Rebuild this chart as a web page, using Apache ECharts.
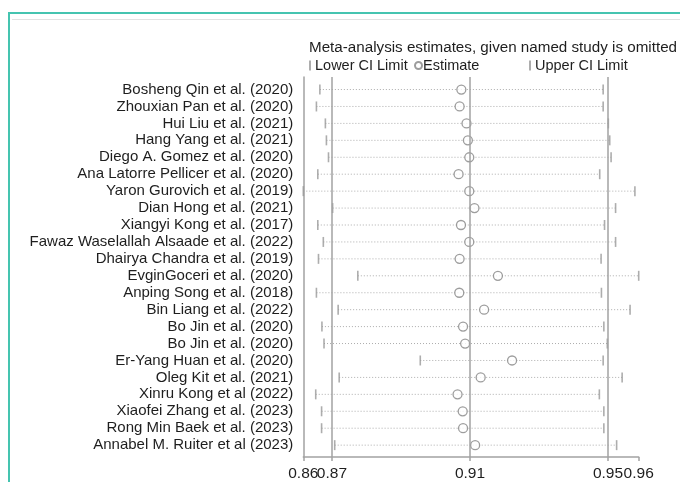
<!DOCTYPE html>
<html>
<head>
<meta charset="utf-8">
<script src="https://cdn.jsdelivr.net/npm/echarts@6/dist/echarts.min.js"></script>
<style>
  html, body { margin: 0; padding: 0; background: #fff; }
  #chart { width: 680px; height: 482px; }
</style>
</head>
<body>
<div id="chart"></div>
<script>
// Leave-one-out sensitivity analysis: pooled estimate with each study omitted
const studies = [
  'Bosheng Qin et al. (2020)',
  'Zhouxian Pan et al. (2020)',
  'Hui Liu et al. (2021)',
  'Hang Yang et al. (2021)',
  'Diego A. Gomez et al. (2020)',
  'Ana Latorre Pellicer et al. (2020)',
  'Yaron Gurovich et al. (2019)',
  'Dian Hong et al. (2021)',
  'Xiangyi Kong et al. (2017)',
  'Fawaz Waselallah Alsaade et al. (2022)',
  'Dhairya Chandra et al. (2019)',
  'EvginGoceri et al. (2020)',
  'Anping Song et al. (2018)',
  'Bin Liang et al. (2022)',
  'Bo Jin et al. (2020)',
  'Bo Jin et al. (2020)',
  'Er-Yang Huan et al. (2020)',
  'Oleg Kit et al. (2021)',
  'Xinru Kong et al (2022)',
  'Xiaofei Zhang et al. (2023)',
  'Rong Min Baek et al. (2023)',
  'Annabel M. Ruiter et al (2023)'
];

const lowerCI = [
  0.8665, 0.8655, 0.8681, 0.8684, 0.8690, 0.8659, 0.8617, 0.8702, 0.8659, 0.8675, 0.8661,
  0.8775, 0.8655, 0.8718, 0.8671, 0.8677, 0.8956, 0.8721, 0.8653, 0.8670, 0.8670, 0.8708
];

const estimate = [
  0.9075, 0.9070, 0.9090, 0.9094, 0.9098, 0.9067, 0.9098, 0.9113, 0.9074, 0.9098, 0.9070,
  0.9181, 0.9069, 0.9141, 0.9080, 0.9086, 0.9222, 0.9131, 0.9064, 0.9079, 0.9080, 0.9115
];

const upperCI = [
  0.9486, 0.9486, 0.9501, 0.9505, 0.9509, 0.9476, 0.9578, 0.9522, 0.9490, 0.9522, 0.9480,
  0.9589, 0.9481, 0.9564, 0.9488, 0.9498, 0.9486, 0.9541, 0.9475, 0.9488, 0.9488, 0.9525
];

// Pooled result with all studies included: lower limit, estimate, upper limit
const overall = [0.87, 0.91, 0.95];

const axisMin = Math.min(...lowerCI);
const axisMax = Math.max(...upperCI);
const xTicks = [axisMin, overall[0], overall[1], overall[2], axisMax];
// labels are split over two axes so that adjacent values both stay visible
const xLabelsA = [axisMin, overall[1], axisMax];
const xLabelsB = [overall[0], overall[2]];
const rowIdx = studies.map((_, i) => i);

const lineGray = '#a2a2a2';
const markGray = '#999';
const textColor = '#1e1e1e';
const font = 'Liberation Sans, Arial, sans-serif';
const tickFmt = v => v.toFixed(2);

const chart = echarts.init(document.getElementById('chart'));

chart.setOption({
  animation: false,
  backgroundColor: '#fff',
  textStyle: { fontFamily: font },
  title: {
    text: 'Meta-analysis estimates, given named study is omitted',
    left: 304,
    top: 35,
    textStyle: { fontSize: 15.2, fontWeight: 'normal', color: textColor, fontFamily: font }
  },
  legend: [
    {
      data: ['Lower CI Limit'],
      left: 304, top: 53,
      itemWidth: 2, itemHeight: 10,
      textStyle: { fontSize: 14.5, color: textColor, fontFamily: font, padding: [0, 0, 0, -1] }
    },
    {
      data: ['Estimate'],
      left: 409, top: 53,
      itemWidth: 7, itemHeight: 7,
      textStyle: { fontSize: 14.5, color: textColor, fontFamily: font, padding: [0, 0, 0, -4] }
    },
    {
      data: ['Upper CI Limit'],
      left: 524, top: 53,
      itemWidth: 2, itemHeight: 10,
      textStyle: { fontSize: 14.5, color: textColor, fontFamily: font, padding: [0, 0, 0, -1] }
    }
  ],
  grid: { left: 303.3, right: 41.3, top: 77, bottom: 21.3, containLabel: false },
  xAxis: [
    {
      type: 'value',
      min: axisMin,
      max: axisMax,
      axisLine: { show: true, onZero: false, lineStyle: { color: lineGray, width: 1.5 } },
      axisTick: { show: true, customValues: xTicks, length: 4, lineStyle: { color: lineGray, width: 1.5 } },
      axisLabel: {
        customValues: xLabelsA,
        showMinLabel: true,
        showMaxLabel: true,
        hideOverlap: false,
        formatter: tickFmt,
        fontSize: 15.5, color: textColor, fontFamily: font, margin: 9
      },
      splitLine: { show: false }
    },
    {
      type: 'value',
      position: 'bottom',
      min: axisMin,
      max: axisMax,
      axisLine: { show: false, onZero: false },
      axisTick: { show: false },
      axisLabel: {
        customValues: xLabelsB,
        hideOverlap: false,
        formatter: tickFmt,
        fontSize: 15.5, color: textColor, fontFamily: font, margin: 9
      },
      splitLine: { show: false }
    }
  ],
  yAxis: {
    type: 'value',
    inverse: true,
    min: -0.74,
    max: 21.7,
    axisLine: { show: true, onZero: false, lineStyle: { color: lineGray, width: 1.5 } },
    axisTick: { show: false },
    axisLabel: {
      customValues: rowIdx,
      showMinLabel: true,
      showMaxLabel: true,
      formatter: v => studies[v] || '',
      fontSize: 15, color: textColor, fontFamily: font, margin: 10
    },
    splitLine: { show: false }
  },
  series: [
    {
      // dotted span from lower to upper limit, plus the pooled reference lines
      name: 'range',
      type: 'custom',
      silent: true,
      data: rowIdx.map(i => [lowerCI[i], upperCI[i], i]),
      encode: { x: [0, 1], y: 2 },
      renderItem: (params, api) => {
        const a = api.coord([api.value(0), api.value(2)]);
        const b = api.coord([api.value(1), api.value(2)]);
        return {
          type: 'line',
          shape: { x1: a[0], y1: a[1], x2: b[0], y2: b[1] },
          style: { stroke: '#adadad', lineWidth: 1, lineDash: [1, 2] }
        };
      },
      markLine: {
        silent: true,
        symbol: 'none',
        label: { show: false },
        lineStyle: { type: 'solid', color: lineGray, width: 1.5 },
        data: overall.map(v => ({ xAxis: v }))
      },
      z: 1
    },
    {
      name: 'Lower CI Limit',
      type: 'scatter',
      symbol: 'rect',
      symbolSize: [1.6, 10],
      itemStyle: { color: markGray },
      data: rowIdx.map(i => [lowerCI[i], i]),
      z: 3
    },
    {
      name: 'Estimate',
      type: 'scatter',
      symbol: 'circle',
      symbolSize: 9,
      itemStyle: { color: '#fff', borderColor: '#858585', borderWidth: 1.3 },
      data: rowIdx.map(i => [estimate[i], i]),
      z: 4
    },
    {
      name: 'Upper CI Limit',
      type: 'scatter',
      symbol: 'rect',
      symbolSize: [1.6, 10],
      itemStyle: { color: markGray },
      data: rowIdx.map(i => [upperCI[i], i]),
      z: 3
    }
  ],
  graphic: [
    // page frame around the figure
    { type: 'line', shape: { x1: 9, y1: 12, x2: 9, y2: 482 }, style: { stroke: '#45c4b0', lineWidth: 2 }, silent: true },
    { type: 'line', shape: { x1: 8, y1: 13, x2: 680, y2: 13 }, style: { stroke: '#45c4b0', lineWidth: 2 }, silent: true },
    { type: 'line', shape: { x1: 12, y1: 19.5, x2: 680, y2: 19.5 }, style: { stroke: '#e2e2e2', lineWidth: 1 }, silent: true }
  ]
});
</script>
</body>
</html>
